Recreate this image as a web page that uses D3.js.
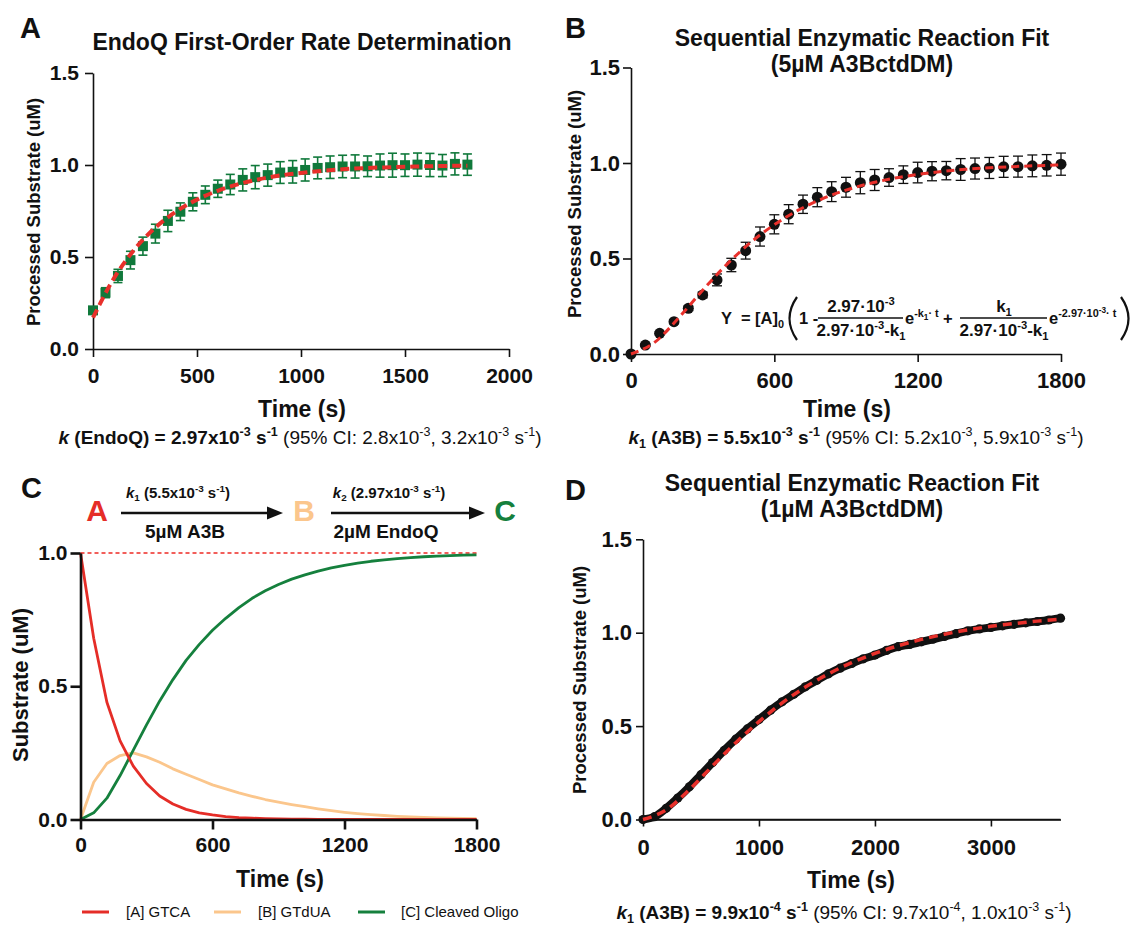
<!DOCTYPE html>
<html>
<head>
<meta charset="utf-8">
<script src="https://cdn.jsdelivr.net/npm/d3@7"></script>
<style>
  body { margin: 0; background: #fff; }
  svg { font-family: Arial, 'Liberation Sans', sans-serif; }
  text { white-space: pre; }
</style>
</head>
<body>
<svg id="fig" width="1132" height="925"></svg>
<script>
// ---- data ----
const sampleTimes = [0, 60, 120, 180, 240, 300, 360, 420, 480, 540, 600, 660, 720, 780, 840, 900,
  960, 1020, 1080, 1140, 1200, 1260, 1320, 1380, 1440, 1500, 1560, 1620, 1680, 1740, 1800];
const fitTimes = [0, 100, 200, 300, 400, 500, 600, 700, 800, 900, 1000, 1100, 1200, 1300, 1400,
  1500, 1600, 1700, 1800];

// A: EndoQ
const endoqMean = [0.21, 0.306, 0.397, 0.483, 0.559, 0.627, 0.696, 0.746, 0.80, 0.838, 0.871, 0.894,
  0.919, 0.934, 0.945, 0.959, 0.963, 0.973, 0.984, 0.988, 0.992, 0.992, 0.993, 0.997, 0.999, 0.999,
  1.002, 1.0, 0.997, 1.006, 1.002];
const endoqErr = [0.015, 0.027, 0.036, 0.048, 0.049, 0.051, 0.058, 0.048, 0.049, 0.048, 0.047, 0.055,
  0.06, 0.063, 0.06, 0.059, 0.061, 0.06, 0.059, 0.061, 0.061, 0.063, 0.056, 0.063, 0.065, 0.061,
  0.063, 0.063, 0.06, 0.06, 0.058];
const endoqFit = [0.17, 0.383, 0.542, 0.66, 0.747, 0.812, 0.86, 0.896, 0.923, 0.943, 0.957, 0.968,
  0.977, 0.983, 0.987, 0.99, 0.993, 0.995, 0.996];

// B: 5uM A3BctdDM
const a3bMean = [0.0, 0.047, 0.108, 0.169, 0.239, 0.309, 0.388, 0.466, 0.541, 0.615, 0.679, 0.732,
  0.784, 0.821, 0.85, 0.873, 0.897, 0.911, 0.924, 0.939, 0.95, 0.957, 0.96, 0.966, 0.971, 0.974,
  0.98, 0.981, 0.985, 0.988, 0.994];
const a3bErr = [0.004, 0.006, 0.008, 0.01, 0.012, 0.015, 0.031, 0.035, 0.044, 0.05, 0.05, 0.05,
  0.048, 0.05, 0.052, 0.052, 0.058, 0.055, 0.046, 0.046, 0.054, 0.05, 0.048, 0.057, 0.055, 0.055,
  0.055, 0.055, 0.057, 0.056, 0.058];
const a3bFit = [0, 0.062, 0.19, 0.334, 0.468, 0.583, 0.677, 0.753, 0.812, 0.858, 0.893, 0.92,
  0.94, 0.955, 0.967, 0.975, 0.981, 0.986, 0.99];

// C: simulated species
const simA = [1.0, 0.68, 0.44, 0.295, 0.2, 0.135, 0.088, 0.058, 0.038, 0.025, 0.017, 0.011, 0.007,
  0.005, 0.003, 0.002, 0.001, 0.001, 0, 0, 0, 0, 0, 0, 0, 0, 0, 0, 0, 0, 0];
const simB = [0, 0.14, 0.21, 0.24, 0.25, 0.235, 0.215, 0.19, 0.17, 0.15, 0.13, 0.115, 0.1, 0.087,
  0.075, 0.065, 0.056, 0.048, 0.04, 0.033, 0.027, 0.022, 0.018, 0.015, 0.012, 0.01, 0.008, 0.006,
  0.005, 0.004, 0.003];
const simC = [0, 0.025, 0.08, 0.165, 0.26, 0.355, 0.445, 0.525, 0.597, 0.657, 0.71, 0.755, 0.795,
  0.83, 0.858, 0.882, 0.902, 0.918, 0.932, 0.944, 0.954, 0.962, 0.969, 0.974, 0.979, 0.983, 0.986,
  0.988, 0.99, 0.992, 0.993];
const legendLabels = ['[A] GTCA', '[B] GTdUA', '[C] Cleaved Oligo'];

// D: 1uM A3BctdDM
const lowTimes = [0, 100, 200, 300, 400, 500, 600, 700, 800, 900, 1000, 1100, 1200, 1300, 1400,
  1500, 1600, 1700, 1800, 1900, 2000, 2100, 2200, 2300, 2400, 2500, 2600, 2700, 2800, 2900, 3000,
  3100, 3200, 3300, 3400, 3500, 3600];
const lowMean = [0, 0.015, 0.06, 0.115, 0.175, 0.24, 0.305, 0.37, 0.43, 0.485, 0.535, 0.585, 0.63,
  0.67, 0.71, 0.745, 0.78, 0.81, 0.835, 0.86, 0.88, 0.905, 0.925, 0.937, 0.951, 0.965, 0.98, 0.995,
  1.01, 1.02, 1.028, 1.037, 1.045, 1.053, 1.06, 1.068, 1.078];
const lowFitTimes = [0, 200, 400, 600, 800, 1000, 1200, 1400, 1600, 1800, 2000, 2200, 2400, 2600,
  2800, 3000, 3200, 3400, 3600];
const lowFit = [0, 0.051, 0.16, 0.287, 0.411, 0.524, 0.624, 0.709, 0.78, 0.84, 0.889, 0.93, 0.964,
  0.992, 1.015, 1.034, 1.049, 1.062, 1.072];

const RED = '#e8302b', GREEN = '#10793b', PEACH = '#fbc68c', CGREEN = '#15803d', CRED = '#e52d27';

const svg = d3.select('#fig');

// text with sub/superscripts: segs = [[text, flags]]
// flags: b bold, i italic, ^ sup, _ sub, S sub inside a sup, P sup inside a sup
const rich = (sel, x, y, size, anchor, segs) => {
  const t = sel.append('text')
    .attr('x', x).attr('y', y)
    .attr('font-size', size)
    .attr('text-anchor', anchor)
    .attr('fill', '#111');
  let shift = 0;
  segs.forEach(([s, f = '']) => {
    let target = 0, scale = 1;
    if (f.includes('S')) { target = -0.22 * size; scale = 0.5; }
    else if (f.includes('P')) { target = -0.68 * size; scale = 0.5; }
    else if (f.includes('^')) { target = -0.42 * size; scale = 0.66; }
    else if (f.includes('_')) { target = 0.22 * size; scale = 0.66; }
    t.append('tspan')
      .attr('dy', target - shift)
      .attr('font-size', size * scale)
      .attr('font-weight', f.includes('b') ? 'bold' : 'normal')
      .attr('font-style', f.includes('i') ? 'italic' : 'normal')
      .text(s);
    shift = target;
  });
  return t;
};

const label = (sel, x, y, size, txt, opts = {}) => sel.append('text')
  .attr('x', x).attr('y', y)
  .attr('font-size', size)
  .attr('font-weight', opts.weight || 'bold')
  .attr('text-anchor', opts.anchor || 'middle')
  .attr('fill', opts.fill || '#111')
  .text(txt);

const yLabel = (sel, x, y, size, txt) => sel.append('text')
  .attr('transform', `translate(${x},${y}) rotate(-90)`)
  .attr('dy', '0.35em')
  .attr('font-size', size)
  .attr('font-weight', 'bold')
  .attr('text-anchor', 'middle')
  .attr('fill', '#111')
  .text(txt);

const drawAxes = (x, y, o) => {
  const xAxis = d3.axisBottom(x)
    .tickValues(o.xTicks)
    .tickSize(o.tick).tickSizeOuter(0)
    .tickPadding(o.xPad)
    .tickFormat(d3.format('d'));
  const yAxis = d3.axisLeft(y)
    .tickValues(o.yTicks)
    .tickSize(o.tick).tickSizeOuter(0)
    .tickPadding(o.yPad)
    .tickFormat(d3.format('.1f'));

  const gx = svg.append('g')
    .attr('transform', `translate(0,${y(0)})`)
    .call(xAxis);
  const gy = svg.append('g')
    .attr('transform', `translate(${x(0)},0)`)
    .call(yAxis);
  [gx, gy].forEach(g => {
    g.selectAll('.domain, .tick line')
      .attr('stroke', '#111')
      .attr('stroke-width', o.stroke);
    g.selectAll('text')
      .attr('font-size', o.font)
      .attr('font-weight', 'bold')
      .attr('font-family', 'Arial, "Liberation Sans", sans-serif')
      .attr('fill', '#111');
  });
};

// ================= A =================
{
  const x = d3.scaleLinear().domain([0, 2000]).range([93, 509]);
  const y = d3.scaleLinear().domain([0, 1.5]).range([349, 73]);

  drawAxes(x, y, {
    xTicks: [0, 500, 1000, 1500, 2000], yTicks: [0, 0.5, 1.0, 1.5],
    tick: 8, xPad: 11, yPad: 6, stroke: 1.6, font: 21
  });

  const pts = sampleTimes.map((t, i) => ({ t, m: endoqMean[i], e: endoqErr[i] }));
  const eb = svg.append('g').attr('stroke', GREEN).attr('stroke-width', 1.6);
  pts.forEach(d => {
    const cx = x(d.t);
    eb.append('line').attr('x1', cx).attr('x2', cx).attr('y1', y(d.m - d.e)).attr('y2', y(d.m + d.e));
    eb.append('line').attr('x1', cx - 4.5).attr('x2', cx + 4.5).attr('y1', y(d.m - d.e)).attr('y2', y(d.m - d.e));
    eb.append('line').attr('x1', cx - 4.5).attr('x2', cx + 4.5).attr('y1', y(d.m + d.e)).attr('y2', y(d.m + d.e));
  });
  svg.append('g').selectAll('rect').data(pts).join('rect')
    .attr('x', d => x(d.t) - 5).attr('y', d => y(d.m) - 5)
    .attr('width', 10).attr('height', 10)
    .attr('fill', GREEN);

  svg.append('path')
    .datum(fitTimes.map((t, i) => [t, endoqFit[i]]))
    .attr('d', d3.line().x(d => x(d[0])).y(d => y(d[1])).curve(d3.curveMonotoneX))
    .attr('fill', 'none').attr('stroke', RED)
    .attr('stroke-width', 4).attr('stroke-dasharray', '9,5');

  label(svg, 20, 38, 29, 'A', { anchor: 'start' });
  label(svg, 302, 50, 23, 'EndoQ First-Order Rate Determination');
  yLabel(svg, 34, 212, 18.5, 'Processed Substrate (uM)');
  label(svg, 302, 417, 23, 'Time (s)');
  rich(svg, 300, 444, 19, 'middle', [
    ['k', 'bi'], [' (EndoQ) = 2.97x10', 'b'], ['-3', 'b^'], [' s', 'b'], ['-1', 'b^'],
    [' (95% CI: 2.8x10'], ['-3', '^'], [', 3.2x10'], ['-3', '^'], [' s'], ['-1', '^'], [')']
  ]);
}

// ================= B =================
{
  const x = d3.scaleLinear().domain([0, 1800]).range([631, 1061]);
  const y = d3.scaleLinear().domain([0, 1.5]).range([354, 67.5]);

  drawAxes(x, y, {
    xTicks: [0, 600, 1200, 1800], yTicks: [0, 0.5, 1.0, 1.5],
    tick: 8, xPad: 10, yPad: 3, stroke: 1.6, font: 22
  });

  const pts = sampleTimes.map((t, i) => ({ t, m: a3bMean[i], e: a3bErr[i] }));
  const eb = svg.append('g').attr('stroke', '#111').attr('stroke-width', 1.3);
  pts.forEach(d => {
    const cx = x(d.t);
    eb.append('line').attr('x1', cx).attr('x2', cx).attr('y1', y(d.m - d.e)).attr('y2', y(d.m + d.e));
    eb.append('line').attr('x1', cx - 5).attr('x2', cx + 5).attr('y1', y(d.m - d.e)).attr('y2', y(d.m - d.e));
    eb.append('line').attr('x1', cx - 5).attr('x2', cx + 5).attr('y1', y(d.m + d.e)).attr('y2', y(d.m + d.e));
  });
  svg.append('g').selectAll('circle').data(pts).join('circle')
    .attr('cx', d => x(d.t)).attr('cy', d => y(d.m))
    .attr('r', 5.5).attr('fill', '#111');

  svg.append('path')
    .datum(fitTimes.map((t, i) => [t, a3bFit[i]]))
    .attr('d', d3.line().x(d => x(d[0])).y(d => y(d[1])).curve(d3.curveMonotoneX))
    .attr('fill', 'none').attr('stroke', RED)
    .attr('stroke-width', 3).attr('stroke-dasharray', '8,5');

  label(svg, 565, 38, 29, 'B', { anchor: 'start' });
  label(svg, 862, 46, 23, 'Sequential Enzymatic Reaction Fit');
  label(svg, 862, 72, 23, '(5µM A3BctdDM)');
  yLabel(svg, 575, 204, 18.5, 'Processed Substrate (uM)');
  label(svg, 847, 417, 23, 'Time (s)');
  rich(svg, 856, 444, 19, 'middle', [
    ['k', 'bi'], ['1', 'b_'], [' (A3B) = 5.5x10', 'b'], ['-3', 'b^'], [' s', 'b'], ['-1', 'b^'],
    [' (95% CI: 5.2x10'], ['-3', '^'], [', 5.9x10'], ['-3', '^'], [' s'], ['-1', '^'], [')']
  ]);

  // fitted equation
  const eq = svg.append('g');
  rich(eq, 721, 324, 16.5, 'start', [['Y  = [A]', 'b'], ['0', 'b_']]);
  eq.append('path').attr('d', 'M797,297 Q782,318.5 797,340').attr('fill', 'none').attr('stroke', '#111').attr('stroke-width', 2.2);
  rich(eq, 799, 324, 16.5, 'start', [['1 -', 'b']]);
  eq.append('line').attr('x1', 818).attr('x2', 903).attr('y1', 318).attr('y2', 318).attr('stroke', '#111').attr('stroke-width', 1.4);
  rich(eq, 861, 312, 17, 'middle', [['2.97·10', 'b'], ['-3', 'b^']]);
  rich(eq, 861, 336, 17, 'middle', [['2.97·10', 'b'], ['-3', 'b^'], ['-k', 'b'], ['1', 'b_']]);
  rich(eq, 905, 324, 16.5, 'start', [['e', 'b'], ['-k', 'b^'], ['1', 'bS'], ['· t', 'b^']]);
  rich(eq, 943, 324, 16.5, 'start', [['+', 'b']]);
  eq.append('line').attr('x1', 960).attr('x2', 1047).attr('y1', 318).attr('y2', 318).attr('stroke', '#111').attr('stroke-width', 1.4);
  rich(eq, 1004, 312, 17, 'middle', [['k', 'b'], ['1', 'b_']]);
  rich(eq, 1004, 336, 17, 'middle', [['2.97·10', 'b'], ['-3', 'b^'], ['-k', 'b'], ['1', 'b_']]);
  rich(eq, 1049, 324, 16.5, 'start', [['e', 'b'], ['-2.97·10', 'b^'], ['-3', 'bP'], ['· t', 'b^']]);
  eq.append('path').attr('d', 'M1121,297 Q1136,318.5 1121,340').attr('fill', 'none').attr('stroke', '#111').attr('stroke-width', 2.2);
}

// ================= C =================
{
  const x = d3.scaleLinear().domain([0, 1800]).range([80.5, 476.5]);
  const y = d3.scaleLinear().domain([0, 1.0]).range([819.5, 553]);

  svg.append('line')
    .attr('x1', x(0)).attr('x2', x(1800)).attr('y1', y(1)).attr('y2', y(1))
    .attr('stroke', '#ee2a24').attr('stroke-width', 1.3).attr('stroke-dasharray', '4,3');

  const line = d3.line().x((d, i) => x(sampleTimes[i])).y(d => y(d));
  [[simB, PEACH], [simC, CGREEN], [simA, CRED]].forEach(([vals, c]) => {
    svg.append('path').datum(vals)
      .attr('d', line)
      .attr('fill', 'none').attr('stroke', c)
      .attr('stroke-width', 2.8).attr('stroke-linejoin', 'round');
  });

  drawAxes(x, y, {
    xTicks: [0, 600, 1200, 1800], yTicks: [0, 0.5, 1.0],
    tick: 10, xPad: 8, yPad: 3, stroke: 2.6, font: 21
  });

  label(svg, 21, 498, 29, 'C', { anchor: 'start' });
  yLabel(svg, 20, 685, 22, 'Substrate (uM)');
  label(svg, 280, 887, 23, 'Time (s)');

  // reaction scheme
  const arrow = (x1, x2, yy) => {
    svg.append('line').attr('x1', x1).attr('x2', x2 - 12).attr('y1', yy).attr('y2', yy)
      .attr('stroke', '#111').attr('stroke-width', 2.4);
    svg.append('path').attr('d', `M${x2},${yy} L${x2 - 16},${yy - 6.5} L${x2 - 16},${yy + 6.5} Z`).attr('fill', '#111');
  };
  label(svg, 97, 521, 30, 'A', { fill: CRED });
  label(svg, 304, 521, 30, 'B', { fill: PEACH });
  label(svg, 505, 521, 30, 'C', { fill: CGREEN });
  arrow(121, 283, 513);
  arrow(331, 485, 513);
  rich(svg, 178, 498, 15, 'middle', [['k', 'bi'], ['1', 'b_'], [' (5.5x10', 'b'], ['-3', 'b^'], [' s', 'b'], ['-1', 'b^'], [')', 'b']]);
  rich(svg, 389, 498, 15, 'middle', [['k', 'bi'], ['2', 'b_'], [' (2.97x10', 'b'], ['-3', 'b^'], [' s', 'b'], ['-1', 'b^'], [')', 'b']]);
  label(svg, 185, 538, 19, '5µM A3B');
  label(svg, 386, 538, 19, '2µM EndoQ');

  // legend
  const lg = [[82, 126, CRED], [214, 258, PEACH], [358, 401, CGREEN]];
  legendLabels.forEach((txt, i) => {
    const [lx, tx, c] = lg[i];
    svg.append('line').attr('x1', lx).attr('x2', lx + 27).attr('y1', 912).attr('y2', 912)
      .attr('stroke', c).attr('stroke-width', 3);
    label(svg, tx, 917, 15, txt, { anchor: 'start', weight: 'normal' });
  });
}

// ================= D =================
{
  const x = d3.scaleLinear().domain([0, 3600]).range([643, 1060.5]);
  const y = d3.scaleLinear().domain([0, 1.5]).range([819.5, 539.3]);

  drawAxes(x, y, {
    xTicks: [0, 1000, 2000, 3000], yTicks: [0, 0.5, 1.0, 1.5],
    tick: 7, xPad: 13, yPad: 4, stroke: 1.6, font: 22
  });
  // x axis line runs on to 3600
  svg.append('line').attr('x1', x(0)).attr('x2', x(3600)).attr('y1', y(0)).attr('y2', y(0))
    .attr('stroke', '#111').attr('stroke-width', 1.6);

  svg.append('path')
    .datum(lowTimes.map((t, i) => [t, lowMean[i]]))
    .attr('d', d3.line().x(d => x(d[0])).y(d => y(d[1])).curve(d3.curveMonotoneX))
    .attr('fill', 'none').attr('stroke', '#111')
    .attr('stroke-width', 8).attr('stroke-linecap', 'round');
  svg.append('g').selectAll('circle').data(lowTimes).join('circle')
    .attr('cx', d => x(d)).attr('cy', (d, i) => y(lowMean[i]))
    .attr('r', 4.6).attr('fill', '#111');

  svg.append('path')
    .datum(lowFitTimes.map((t, i) => [t, lowFit[i]]))
    .attr('d', d3.line().x(d => x(d[0])).y(d => y(d[1])).curve(d3.curveMonotoneX))
    .attr('fill', 'none').attr('stroke', RED)
    .attr('stroke-width', 3.5).attr('stroke-dasharray', '9,6');

  label(svg, 565, 500, 29, 'D', { anchor: 'start' });
  label(svg, 852, 491, 23, 'Sequential Enzymatic Reaction Fit');
  label(svg, 852, 517, 23, '(1µM A3BctdDM)');
  yLabel(svg, 580, 680, 18.5, 'Processed Substrate (uM)');
  label(svg, 851, 888, 23, 'Time (s)');
  rich(svg, 844, 919, 19, 'middle', [
    ['k', 'bi'], ['1', 'b_'], [' (A3B) = 9.9x10', 'b'], ['-4', 'b^'], [' s', 'b'], ['-1', 'b^'],
    [' (95% CI: 9.7x10'], ['-4', '^'], [', 1.0x10'], ['-3', '^'], [' s'], ['-1', '^'], [')']
  ]);
}
</script>
</body>
</html>
